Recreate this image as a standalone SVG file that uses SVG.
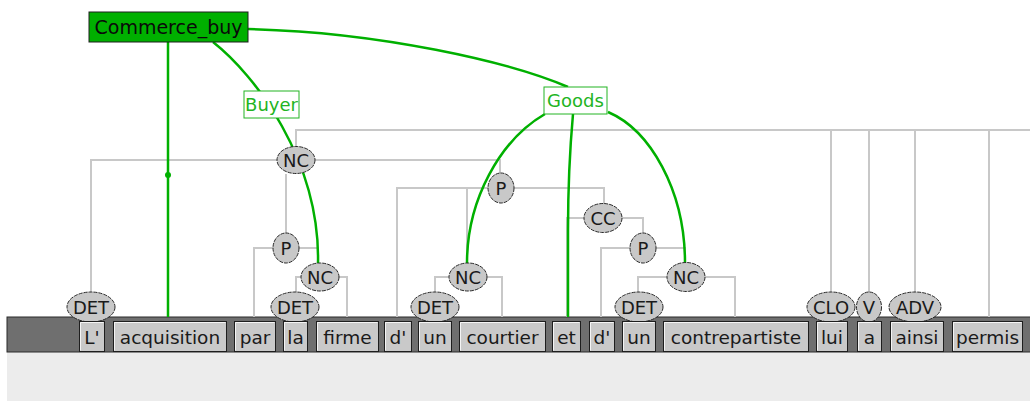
<svg xmlns="http://www.w3.org/2000/svg" width="1030" height="401" viewBox="0 0 1030 401">
<style>
.bg{fill:#ffffff}
.band{fill:#6f6f6f;stroke:#2a2a2a;stroke-width:1}
.under{fill:#ececec}
.wbox{fill:#c9c9c9;stroke:#1e1e1e;stroke-width:1}
.hl{fill:none;stroke:#f4f4f4;stroke-width:1}
.wtext{font-family:"DejaVu Sans",sans-serif;font-size:18.5px;fill:#1a1a1a;text-anchor:middle}
.tag{fill:#c8c8c8;stroke:#2a2a2a;stroke-width:1;stroke-dasharray:4 1}
.ttext{font-family:"DejaVu Sans",sans-serif;font-size:18px;fill:#1a1a1a;text-anchor:middle}
.tree{fill:none;stroke:#c8c8c8;stroke-width:2}
.fe{fill:none;stroke:#00b000;stroke-width:2.5}
.frame{fill:#00b000;stroke:#1e1e1e;stroke-width:1}
.ftext{font-family:"DejaVu Sans",sans-serif;font-size:19px;fill:#0a0a0a;text-anchor:middle}
.role{fill:#ffffff;stroke:#22b422;stroke-width:1}
.rtext{font-family:"DejaVu Sans",sans-serif;font-size:18px;fill:#22b422;text-anchor:middle}
</style>
<rect class="bg" x="0" y="0" width="1030" height="401"/>
<rect class="under" x="7" y="352" width="1023" height="49"/>
<rect class="band" x="7" y="317" width="1030" height="35"/>

<g id="connectors">
  <path class="tree" d="M296,146 V130 H1030"/>
  <path class="tree" d="M831,130 V292 M869,130 V292 M915,130 V292 M989,130 V317"/>
  <path class="tree" d="M91,292 V160 H500 V174 M168,160 V317 M286,174 V233"/>
  <path class="tree" d="M254,317 V248 H318 V263"/>
  <path class="tree" d="M296,292 V277 H347 V317"/>
  <path class="tree" d="M397,317 V188 H604 V204 M467,188 V263"/>
  <path class="tree" d="M435,292 V277 H502 V317"/>
  <path class="tree" d="M567,317 V218 H643 V233"/>
  <path class="tree" d="M601,317 V248 H685 V263"/>
  <path class="tree" d="M638,292 V277 H735 V317"/>
  <path class="fe" d="M168,42 V317"/>
  <circle cx="168" cy="175" r="3" fill="#00b000"/>
  <path class="fe" d="M213,42 C255,75 320,160 318,263"/>
  <path class="fe" d="M248,29 C380,32 510,62 568,87"/>
  <path class="fe" d="M545,114 C500,140 467,200 467,263"/>
  <path class="fe" d="M573,114 Q568,170 568,230 L568,317"/>
  <path class="fe" d="M608,112 C650,130 685,190 685,263"/>
</g>

<g id="frame-Commerce_buy">
  <rect class="frame" x="89" y="12" width="159" height="30"/>
  <text class="ftext" x="168.5" y="34">Commerce_buy</text>
</g>
<g id="role-Buyer">
  <rect class="role" x="244" y="91" width="55" height="27"/>
  <text class="rtext" x="271.5" y="111">Buyer</text>
</g>
<g id="role-Goods">
  <rect class="role" x="544" y="87" width="63" height="27"/>
  <text class="rtext" x="575.5" y="107">Goods</text>
</g>

<g id="NC1"><ellipse class="tag" cx="296" cy="160" rx="19" ry="13.5"/><text class="ttext" x="296" y="166.5">NC</text></g>
<g id="P2"><ellipse class="tag" cx="286" cy="248" rx="13" ry="15"/><text class="ttext" x="286" y="254.5">P</text></g>
<g id="NC3"><ellipse class="tag" cx="320" cy="277" rx="19" ry="14"/><text class="ttext" x="320" y="283.5">NC</text></g>
<g id="P1"><ellipse class="tag" cx="501" cy="188" rx="13" ry="15"/><text class="ttext" x="501" y="194.5">P</text></g>
<g id="NC4"><ellipse class="tag" cx="468" cy="277" rx="19" ry="14"/><text class="ttext" x="468" y="283.5">NC</text></g>
<g id="CC"><ellipse class="tag" cx="603" cy="218" rx="19" ry="14.5"/><text class="ttext" x="603" y="224.5">CC</text></g>
<g id="P3"><ellipse class="tag" cx="643" cy="248" rx="13" ry="15"/><text class="ttext" x="643" y="254.5">P</text></g>
<g id="NC5"><ellipse class="tag" cx="686" cy="277" rx="19" ry="14.5"/><text class="ttext" x="686" y="283.5">NC</text></g>
<g id="DET1"><ellipse class="tag" cx="91" cy="307" rx="24" ry="15"/><text class="ttext" x="91" y="313.5">DET</text></g>
<g id="DET2"><ellipse class="tag" cx="295" cy="307" rx="24" ry="15"/><text class="ttext" x="295" y="313.5">DET</text></g>
<g id="DET3"><ellipse class="tag" cx="435" cy="307" rx="24" ry="15"/><text class="ttext" x="435" y="313.5">DET</text></g>
<g id="DET4"><ellipse class="tag" cx="639" cy="307" rx="24" ry="15"/><text class="ttext" x="639" y="313.5">DET</text></g>
<g id="CLO"><ellipse class="tag" cx="831" cy="307" rx="24" ry="15"/><text class="ttext" x="831" y="313.5">CLO</text></g>
<g id="V"><ellipse class="tag" cx="869" cy="307" rx="12.5" ry="15"/><text class="ttext" x="869" y="313.5">V</text></g>
<g id="ADV"><ellipse class="tag" cx="915" cy="307" rx="26" ry="15"/><text class="ttext" x="915" y="313.5">ADV</text></g>

<g id="w1"><rect class="wbox" x="79.5" y="321.5" width="25" height="30"/><path class="hl" d="M80.5,350.5 V322.5 H103.5"/><text class="wtext" x="92" y="344">L'</text></g>
<g id="w2"><rect class="wbox" x="113.5" y="321.5" width="113" height="30"/><path class="hl" d="M114.5,350.5 V322.5 H225.5"/><text class="wtext" x="170" y="344">acquisition</text></g>
<g id="w3"><rect class="wbox" x="234.5" y="321.5" width="41" height="30"/><path class="hl" d="M235.5,350.5 V322.5 H274.5"/><text class="wtext" x="255" y="344">par</text></g>
<g id="w4"><rect class="wbox" x="283.5" y="321.5" width="24" height="30"/><path class="hl" d="M284.5,350.5 V322.5 H306.5"/><text class="wtext" x="295.5" y="344">la</text></g>
<g id="w5"><rect class="wbox" x="316.5" y="321.5" width="62" height="30"/><path class="hl" d="M317.5,350.5 V322.5 H377.5"/><text class="wtext" x="347.5" y="344">firme</text></g>
<g id="w6"><rect class="wbox" x="384.5" y="321.5" width="27" height="30"/><path class="hl" d="M385.5,350.5 V322.5 H410.5"/><text class="wtext" x="398" y="344">d'</text></g>
<g id="w7"><rect class="wbox" x="418.5" y="321.5" width="33" height="30"/><path class="hl" d="M419.5,350.5 V322.5 H450.5"/><text class="wtext" x="435" y="344">un</text></g>
<g id="w8"><rect class="wbox" x="459.5" y="321.5" width="86" height="30"/><path class="hl" d="M460.5,350.5 V322.5 H544.5"/><text class="wtext" x="502.5" y="344">courtier</text></g>
<g id="w9"><rect class="wbox" x="552.5" y="321.5" width="28" height="30"/><path class="hl" d="M553.5,350.5 V322.5 H579.5"/><text class="wtext" x="566.5" y="344">et</text></g>
<g id="w10"><rect class="wbox" x="589.5" y="321.5" width="25" height="30"/><path class="hl" d="M590.5,350.5 V322.5 H613.5"/><text class="wtext" x="602" y="344">d'</text></g>
<g id="w11"><rect class="wbox" x="622.5" y="321.5" width="33" height="30"/><path class="hl" d="M623.5,350.5 V322.5 H654.5"/><text class="wtext" x="639" y="344">un</text></g>
<g id="w12"><rect class="wbox" x="663.5" y="321.5" width="145" height="30"/><path class="hl" d="M664.5,350.5 V322.5 H807.5"/><text class="wtext" x="736" y="344">contrepartiste</text></g>
<g id="w13"><rect class="wbox" x="816.5" y="321.5" width="31" height="30"/><path class="hl" d="M817.5,350.5 V322.5 H846.5"/><text class="wtext" x="832" y="344">lui</text></g>
<g id="w14"><rect class="wbox" x="857.5" y="321.5" width="24" height="30"/><path class="hl" d="M858.5,350.5 V322.5 H880.5"/><text class="wtext" x="869.5" y="344">a</text></g>
<g id="w15"><rect class="wbox" x="890.5" y="321.5" width="53" height="30"/><path class="hl" d="M891.5,350.5 V322.5 H942.5"/><text class="wtext" x="917" y="344">ainsi</text></g>
<g id="w16"><rect class="wbox" x="952.5" y="321.5" width="70" height="30"/><path class="hl" d="M953.5,350.5 V322.5 H1021.5"/><text class="wtext" x="987.5" y="344">permis</text></g>
</svg>
